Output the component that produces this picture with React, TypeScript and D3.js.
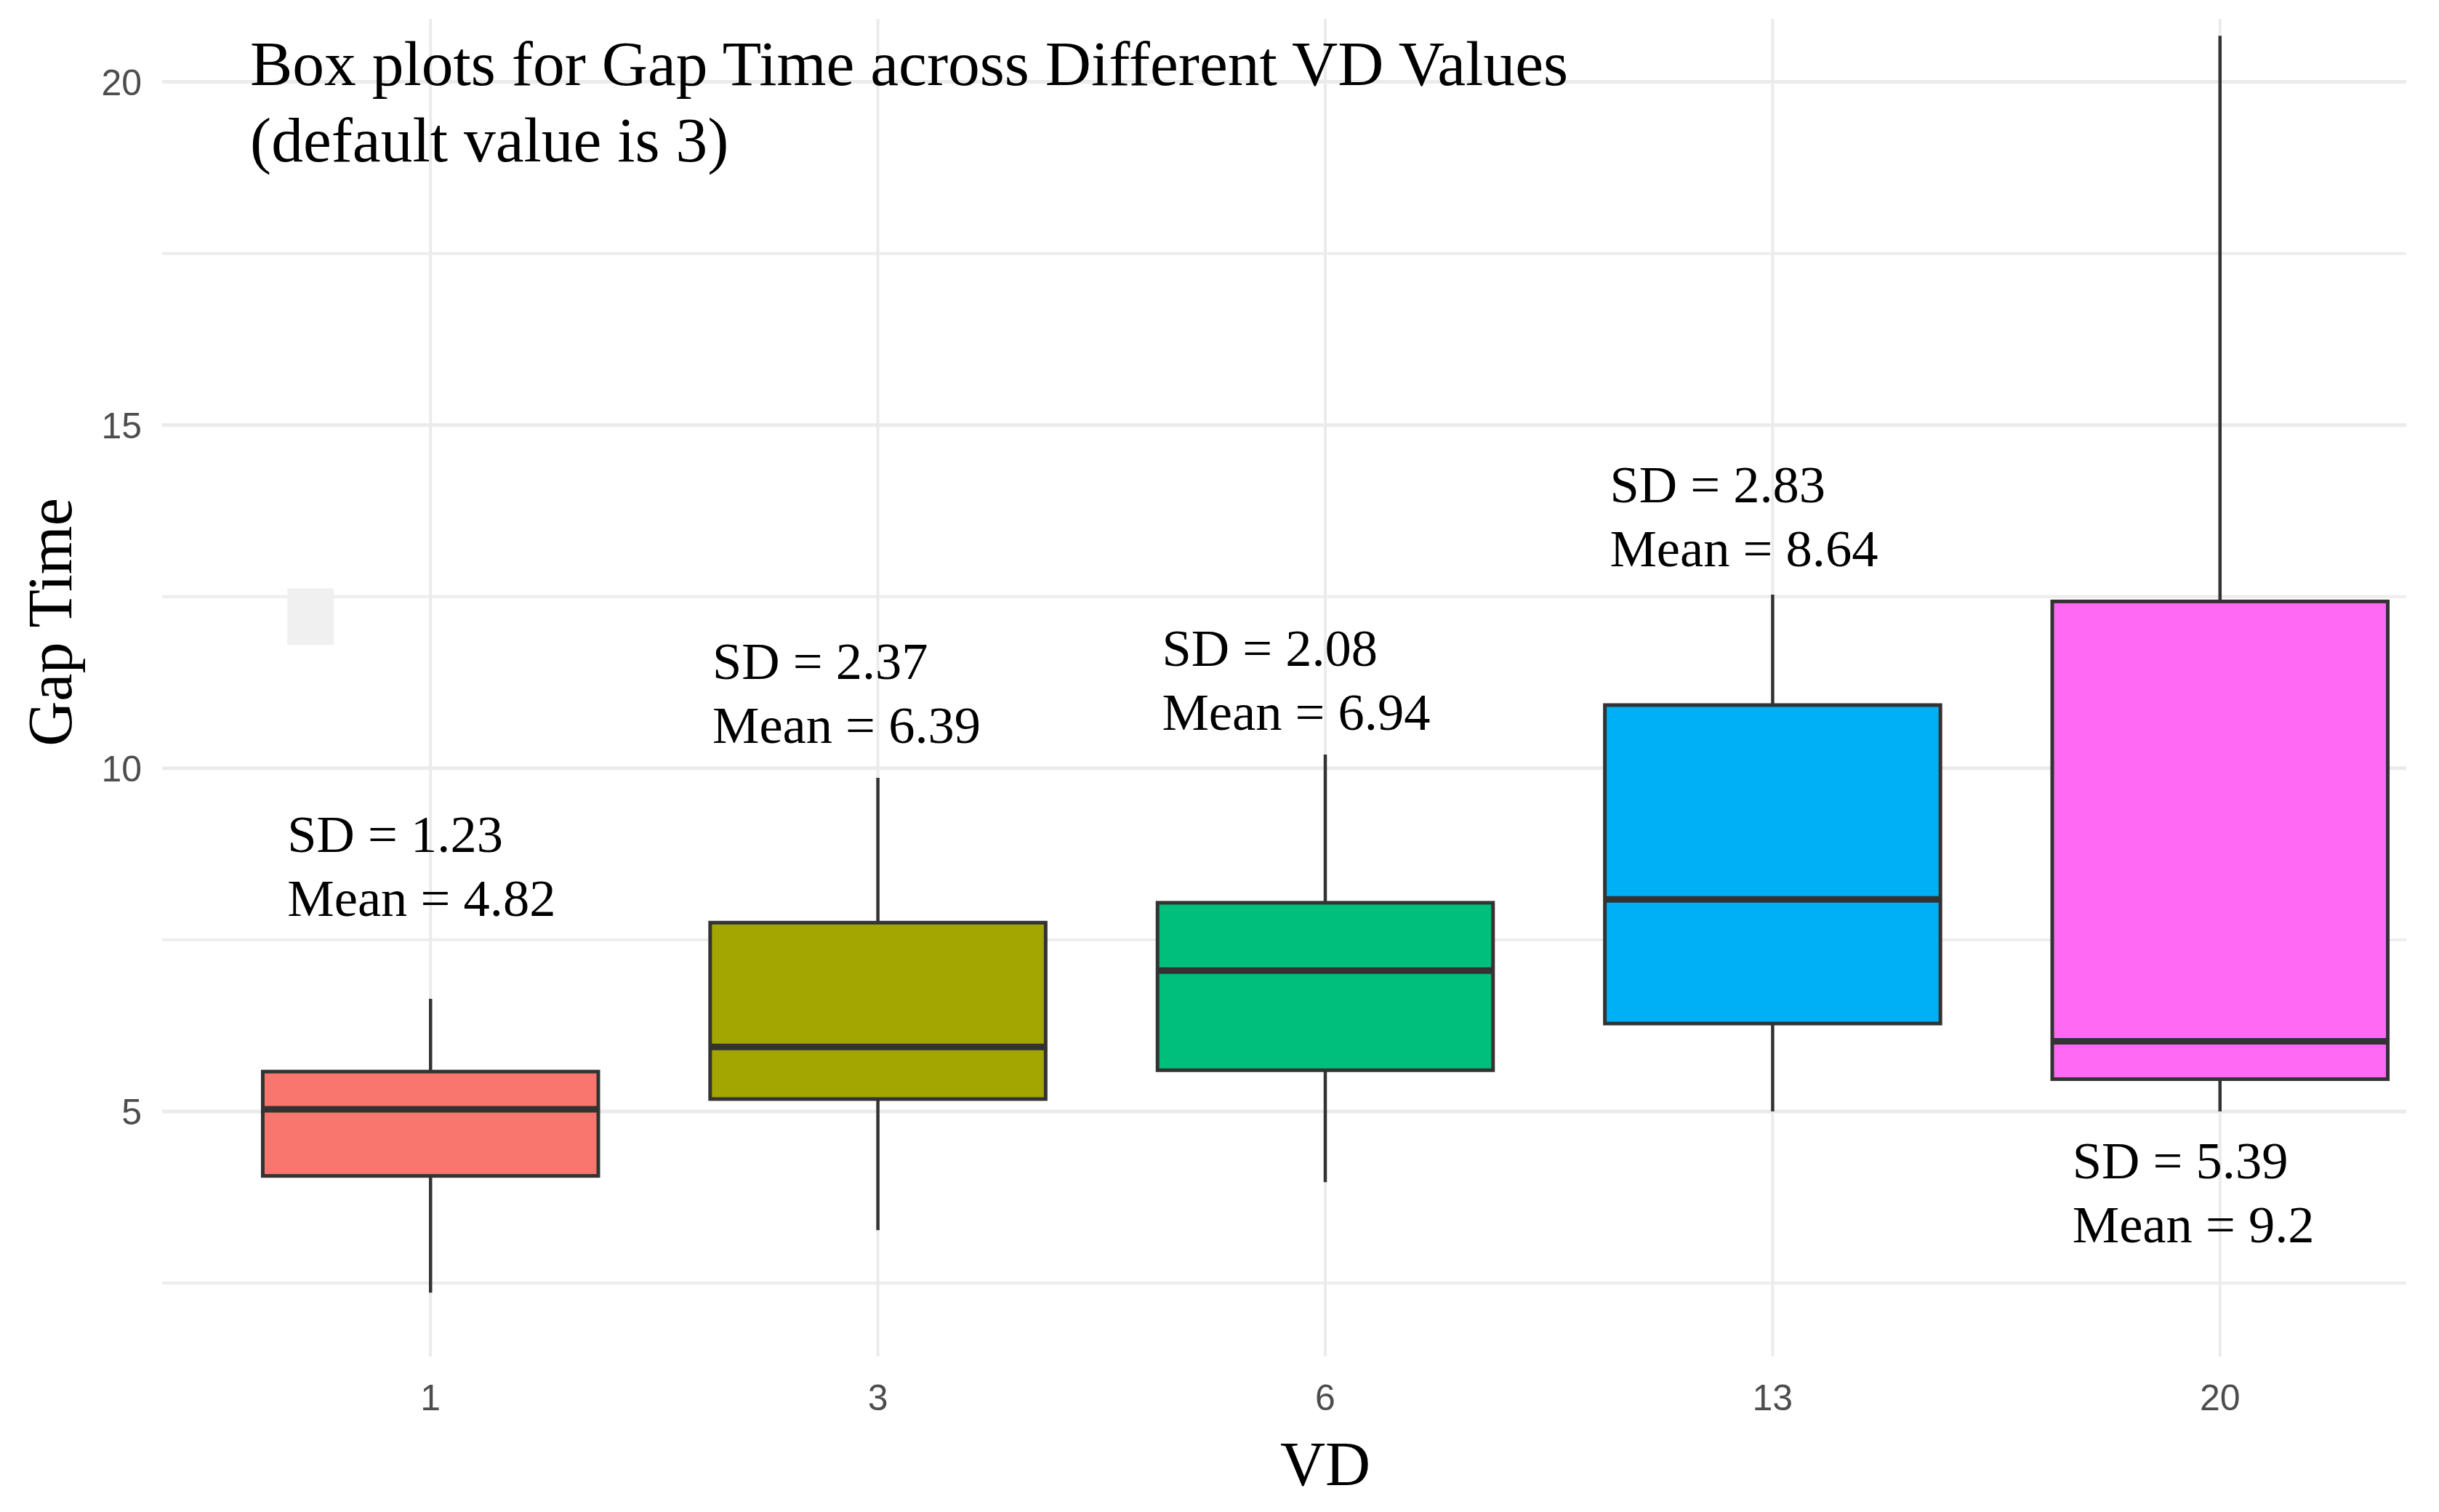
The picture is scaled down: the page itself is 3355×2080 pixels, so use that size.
import React, { useEffect, useRef } from 'react'
import * as d3 from 'd3'

// VD groups and box statistics
const categories = ['1', '3', '6', '13', '20']
const whiskerLow = [2.36, 3.27, 3.97, 5.0, 5.0]
const q1 = [4.06, 5.18, 5.6, 6.28, 5.47]
const median = [5.03, 5.94, 7.05, 8.09, 6.02]
const q3 = [5.58, 7.75, 8.04, 10.92, 12.43]
const whiskerHigh = [6.64, 9.86, 10.2, 12.53, 20.67]
const colors = ['#F8766D', '#A3A500', '#00BF7D', '#00B0F6', '#FF69F4']

// annotation texts, anchored in data units (y) and in category steps (x offset)
const sdLabels = ['1.23', '2.37', '2.08', '2.83', '5.39']
const meanLabels = ['4.82', '6.39', '6.94', '8.64', '9.2']
const labelY = [8.78, 11.3, 11.49, 13.87, 4.03]
const labelShift = [-0.32, -0.37, -0.365, -0.364, -0.33]

const majorTicks = [5, 10, 15, 20]
const minorTicks = [2.5, 7.5, 12.5, 17.5]

const W = 3355
const H = 2080

const App = () => {
    const ref = useRef<SVGSVGElement>(null)

    useEffect(() => {
        const svg = d3.select(ref.current)
        svg.selectAll('*').remove()

        const left = 223
        const right = 3310
        const top = 26
        const bottom = 1866

        const x = d3.scalePoint<string>().domain(categories).range([223, 3423]).padding(0.6)
        const step = x.step()
        const y = d3.scaleLinear().domain([1.43, 20.917]).range([bottom, top])

        svg.append('rect').attr('width', W).attr('height', H).attr('fill', '#ffffff')

        // grid
        const grid = svg.append('g')
        grid.selectAll('.minor')
            .data(minorTicks)
            .enter()
            .append('line')
            .attr('x1', left).attr('x2', right)
            .attr('y1', (d) => y(d)).attr('y2', (d) => y(d))
            .attr('stroke', '#ededed').attr('stroke-width', 4)
        grid.selectAll('.major')
            .data(majorTicks)
            .enter()
            .append('line')
            .attr('x1', left).attr('x2', right)
            .attr('y1', (d) => y(d)).attr('y2', (d) => y(d))
            .attr('stroke', '#ebebeb').attr('stroke-width', 5)
        grid.selectAll('.vert')
            .data(categories)
            .enter()
            .append('line')
            .attr('x1', (d) => x(d) || 0).attr('x2', (d) => x(d) || 0)
            .attr('y1', top).attr('y2', bottom)
            .attr('stroke', '#ebebeb').attr('stroke-width', 4)

        // stray light key square near the first group
        svg.append('rect')
            .attr('x', (x('1') || 0) + labelShift[0] * step)
            .attr('y', y(12.62))
            .attr('width', 64)
            .attr('height', 78)
            .attr('fill', '#f0f0f0')

        // boxes
        const boxW = step * 0.75
        const g = svg.append('g')
        categories.forEach((c, i) => {
            const cx = x(c) || 0
            g.append('line')
                .attr('x1', cx).attr('x2', cx)
                .attr('y1', y(whiskerLow[i])).attr('y2', y(q1[i]))
                .attr('stroke', '#333333').attr('stroke-width', 4.5)
            g.append('line')
                .attr('x1', cx).attr('x2', cx)
                .attr('y1', y(q3[i])).attr('y2', y(whiskerHigh[i]))
                .attr('stroke', '#333333').attr('stroke-width', 4.5)
            g.append('rect')
                .attr('x', cx - boxW / 2)
                .attr('y', y(q3[i]))
                .attr('width', boxW)
                .attr('height', y(q1[i]) - y(q3[i]))
                .attr('fill', colors[i])
                .attr('stroke', '#333333')
                .attr('stroke-width', 5)
            g.append('line')
                .attr('x1', cx - boxW / 2).attr('x2', cx + boxW / 2)
                .attr('y1', y(median[i])).attr('y2', y(median[i]))
                .attr('stroke', '#333333').attr('stroke-width', 9)
        })

        const serif = '"Liberation Serif", "Times New Roman", serif'

        // SD / Mean annotations
        categories.forEach((c, i) => {
            const tx = (x(c) || 0) + labelShift[i] * step
            const t = svg.append('text')
                .attr('font-family', serif)
                .attr('font-size', 72.5)
                .attr('fill', '#000')
            t.append('tspan').attr('x', tx).attr('y', y(labelY[i])).text(`SD = ${sdLabels[i]}`)
            t.append('tspan').attr('x', tx).attr('dy', 88).text(`Mean = ${meanLabels[i]}`)
        })

        // tick labels
        svg.selectAll('.ytick')
            .data(majorTicks)
            .enter()
            .append('text')
            .attr('x', 195)
            .attr('y', (d) => y(d))
            .attr('dy', '0.36em')
            .attr('text-anchor', 'end')
            .attr('font-family', '"Liberation Sans", Arial, sans-serif')
            .attr('font-size', 50)
            .attr('fill', '#4d4d4d')
            .text((d) => d)
        svg.selectAll('.xtick')
            .data(categories)
            .enter()
            .append('text')
            .attr('x', (d) => x(d) || 0)
            .attr('y', 1922)
            .attr('dy', '0.36em')
            .attr('text-anchor', 'middle')
            .attr('font-family', '"Liberation Sans", Arial, sans-serif')
            .attr('font-size', 50)
            .attr('fill', '#4d4d4d')
            .text((d) => d)

        // titles
        const title = svg.append('text')
            .attr('font-family', serif).attr('font-size', 87.5).attr('fill', '#000')
        title.append('tspan').attr('x', 344).attr('y', 117).text('Box plots for Gap Time across Different VD Values')
        title.append('tspan').attr('x', 344).attr('y', 222).text('(default value is 3)')

        svg.append('text')
            .attr('x', (x('6') || 0))
            .attr('y', 2043)
            .attr('text-anchor', 'middle')
            .attr('font-family', serif).attr('font-size', 86).attr('fill', '#000')
            .text('VD')

        svg.append('text')
            .attr('transform', `translate(98,856) rotate(-90)`)
            .attr('text-anchor', 'middle')
            .attr('font-family', serif).attr('font-size', 86).attr('fill', '#000')
            .text('Gap Time')
    }, [])

    return (
        <svg
            ref={ref}
            width={W}
            height={H}
            style={{ position: 'absolute', left: 0, top: 0, display: 'block' }}
        />
    )
}

export default App
